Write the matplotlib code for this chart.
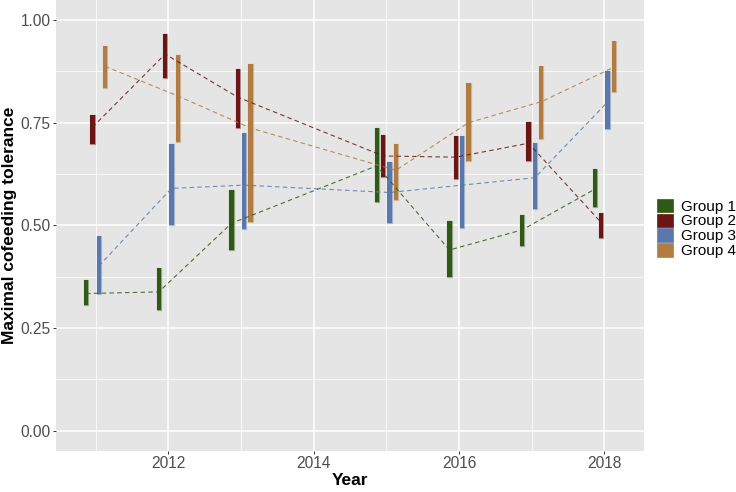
import matplotlib
matplotlib.use("Agg")
import matplotlib.pyplot as plt
from matplotlib.patches import Patch
import numpy as np

plt.rcParams['font.family'] = ['Liberation Sans', 'DejaVu Sans']

years = [2011, 2012, 2013, 2015, 2016, 2017, 2018]
groups = ["Group 1", "Group 2", "Group 3", "Group 4"]
colors = ["#2F5A16", "#6B1515", "#5A78AB", "#B07C42"]

g1_low = [0.306, 0.293, 0.439, 0.558, 0.374, 0.450, 0.545]
g1_high = [0.367, 0.396, 0.585, 0.737, 0.511, 0.525, 0.638]
g1_mid = [0.334, 0.338, 0.505, 0.645, 0.440, 0.489, 0.588]

g2_low = [0.698, 0.859, 0.737, 0.618, 0.612, 0.657, 0.470]
g2_high = [0.768, 0.965, 0.880, 0.720, 0.718, 0.752, 0.529]
g2_mid = [0.739, 0.917, 0.812, 0.669, 0.666, 0.700, 0.507]

g3_low = [0.333, 0.502, 0.492, 0.505, 0.494, 0.541, 0.734]
g3_high = [0.474, 0.699, 0.726, 0.655, 0.718, 0.700, 0.876]
g3_mid = [0.401, 0.590, 0.598, 0.580, 0.598, 0.616, 0.800]

g4_low = [0.834, 0.703, 0.509, 0.561, 0.657, 0.710, 0.825]
g4_high = [0.937, 0.915, 0.894, 0.699, 0.846, 0.887, 0.950]
g4_mid = [0.887, 0.815, 0.737, 0.634, 0.750, 0.801, 0.885]

lows = [g1_low, g2_low, g3_low, g4_low]
highs = [g1_high, g2_high, g3_high, g4_high]
mids = [g1_mid, g2_mid, g3_mid, g4_mid]

dodge = 0.35
n = len(groups)
offsets = [(-dodge / 2 + dodge / n * (i + 0.5)) for i in range(n)]

fig = plt.figure(figsize=(7.36, 4.92), dpi=100)
ax = fig.add_axes([56 / 736, 1 - 451 / 492, (644 - 56) / 736, 451 / 492])
ax.set_facecolor("#E5E5E5")

yrs = np.array(years, dtype=float)
for i in range(n):
    x = yrs + offsets[i]
    lo = np.array(lows[i]); hi = np.array(highs[i])
    ax.bar(x, hi - lo, bottom=lo, width=0.062, color=colors[i],
           linewidth=0, zorder=3)
    ax.bar(x, hi - lo, bottom=lo, width=0.062, facecolor='none',
           edgecolor=colors[i], alpha=0.45, linewidth=0.9, zorder=3)
for i in range(n):
    x = yrs + offsets[i]
    ax.plot(x, mids[i], color=colors[i], lw=0.8, alpha=0.85,
            linestyle=(0, (4, 3)), zorder=4)

ax.set_xlim(2010.454, 2018.546)
ax.set_ylim(-0.0494, 1.0487)
ax.set_xticks([2012, 2014, 2016, 2018])
ax.set_xticks([2011, 2013, 2015, 2017], minor=True)
ax.set_yticks([0, 0.25, 0.5, 0.75, 1.0])
ax.set_yticklabels(["0.00", "0.25", "0.50", "0.75", "1.00"])
ax.set_yticks([0.125, 0.375, 0.625, 0.875], minor=True)
ax.grid(which='major', color='white', lw=1.1, zorder=0)
ax.grid(which='minor', color='white', lw=0.55, zorder=0)
ax.set_axisbelow(True)
for s in ax.spines.values():
    s.set_visible(False)
ax.tick_params(which='major', length=2.4, width=0.7, color='#333333',
               labelsize=11.2, labelcolor='#4D4D4D', pad=1.5)
ax.tick_params(which='minor', length=0)

ax.set_xlabel("Year", fontsize=12.5, fontweight='bold', labelpad=1)
ax.set_ylabel("Maximal cofeeding tolerance", fontsize=12.5, fontweight='bold', labelpad=2.5)

handles = [Patch(facecolor=c, edgecolor=c, alpha=1.0, linewidth=0.5) for c in colors]
fig.legend(handles, groups, loc='center left', bbox_to_anchor=(657 / 736, 1 - 228.5 / 492),
           frameon=False, fontsize=11, handlelength=1.05, handleheight=0.95,
           labelspacing=0.0, handletextpad=0.5, borderpad=0, borderaxespad=0)

fig.savefig("out.png", dpi=100)
